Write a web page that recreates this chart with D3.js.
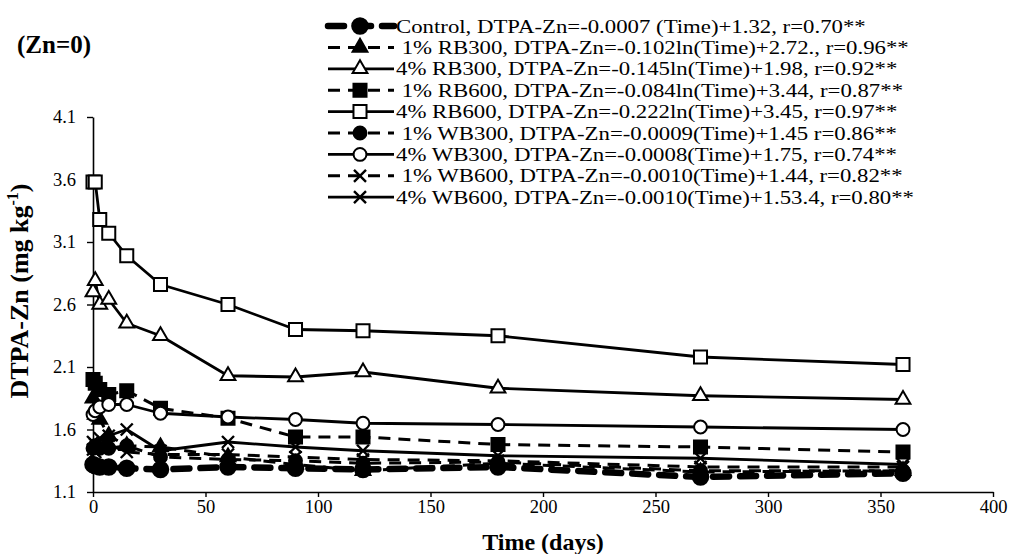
<!DOCTYPE html>
<html>
<head>
<meta charset="utf-8">
<script src="https://cdn.jsdelivr.net/npm/d3@7"></script>
<style>
  html, body { margin: 0; padding: 0; background: #fff; }
  svg { display: block; }
  text { font-family: "Liberation Serif", "Times New Roman", serif; fill: #000; }
</style>
</head>
<body>
<svg id="chart" width="1018" height="554"></svg>
<script>
// Sampling days
const time = [0, 1, 3, 7, 15, 30, 60, 90, 120, 180, 270, 360];

// DTPA-extractable Zn (mg/kg) per treatment
const control = [1.32, 1.31, 1.30, 1.30, 1.29, 1.28, 1.30, 1.29, 1.28, 1.30, 1.22, 1.25];
const rb300_1 = [1.85, 1.72, 1.68, 1.55, 1.47, 1.46, 1.38, 1.32, 1.27, 1.33, 1.26, 1.27];
const rb300_4 = [2.70, 2.79, 2.60, 2.64, 2.45, 2.35, 2.03, 2.02, 2.06, 1.93, 1.87, 1.84];
const rb600_1 = [2.00, 1.97, 1.92, 1.88, 1.91, 1.77, 1.69, 1.54, 1.54, 1.48, 1.46, 1.42];
const rb600_4 = [3.58, 3.58, 3.28, 3.17, 2.99, 2.76, 2.60, 2.40, 2.39, 2.35, 2.18, 2.12];
const wb300_1 = [1.45, 1.47, 1.45, 1.45, 1.47, 1.38, 1.36, 1.35, 1.33, 1.34, 1.27, 1.27];
const wb300_4 = [1.72, 1.75, 1.78, 1.80, 1.80, 1.73, 1.70, 1.68, 1.65, 1.64, 1.62, 1.60];
const wb600_1 = [1.44, 1.42, 1.46, 1.48, 1.42, 1.40, 1.40, 1.38, 1.36, 1.35, 1.30, 1.30];
const wb600_4 = [1.50, 1.48, 1.53, 1.55, 1.60, 1.43, 1.50, 1.46, 1.43, 1.39, 1.37, 1.32];

// Legend entries (fitted equations)
const labels = [
  "Control, DTPA-Zn=-0.0007 (Time)+1.32, r=0.70**",
  " 1% RB300, DTPA-Zn=-0.102ln(Time)+2.72., r=0.96**",
  "4% RB300, DTPA-Zn=-0.145ln(Time)+1.98, r=0.92**",
  " 1% RB600, DTPA-Zn=-0.084ln(Time)+3.44, r=0.87**",
  "4% RB600, DTPA-Zn=-0.222ln(Time)+3.45, r=0.97**",
  " 1% WB300, DTPA-Zn=-0.0009(Time)+1.45 r=0.86**",
  "4% WB300, DTPA-Zn=-0.0008(Time)+1.75, r=0.74**",
  " 1% WB600, DTPA-Zn=-0.0010(Time)+1.44, r=0.82**",
  "4% WB600, DTPA-Zn=-0.0010(Time)+1.53.4, r=0.80**"
];

const xTicks = [0, 50, 100, 150, 200, 250, 300, 350, 400];
const yTicks = [1.1, 1.6, 2.1, 2.6, 3.1, 3.6, 4.1];

// Line / marker styling per series
const styles = [
  { values: control, dash: "16,11", width: 6.5, cap: "round", marker: "circle", fill: "#000", size: 190 },
  { values: rb300_1, dash: "12,8", width: 3, cap: "butt", marker: "triangle", fill: "#000", size: 95 },
  { values: rb300_4, dash: null, width: 2.8, cap: "butt", marker: "triangle", fill: "#fff", size: 95 },
  { values: rb600_1, dash: "12,8", width: 3, cap: "butt", marker: "square", fill: "#000", size: 170 },
  { values: rb600_4, dash: null, width: 2.8, cap: "butt", marker: "square", fill: "#fff", size: 170 },
  { values: wb300_1, dash: "12,8", width: 3, cap: "butt", marker: "circle", fill: "#000", size: 130 },
  { values: wb300_4, dash: null, width: 2.8, cap: "butt", marker: "circle", fill: "#fff", size: 130 },
  { values: wb600_1, dash: "12,8", width: 3, cap: "butt", marker: "x", fill: "none", size: 12 },
  { values: wb600_4, dash: null, width: 2.8, cap: "butt", marker: "x", fill: "none", size: 12 }
];

const svg = d3.select("#chart");
const x = d3.scaleLinear().domain([0, 400]).range([93, 993]);
const y = d3.scaleLinear().domain([1.1, 4.1]).range([492, 117]);

// Axes
const xAxis = svg.append("g")
  .attr("transform", `translate(0,${y(1.1)})`)
  .call(d3.axisBottom(x).tickValues(xTicks).tickSize(5).tickPadding(3).tickSizeOuter(0));
const yAxis = svg.append("g")
  .attr("transform", `translate(${x(0)},0)`)
  .call(d3.axisLeft(y).tickValues(yTicks).tickFormat(d3.format(".1f")).tickSize(6).tickPadding(11).tickSizeOuter(0));
[xAxis, yAxis].forEach(g => {
  g.selectAll("path.domain").attr("stroke", "#000").attr("stroke-width", 1.6);
  g.selectAll(".tick line").attr("stroke", "#000").attr("stroke-width", 1.4);
  g.selectAll(".tick text").attr("font-family", "Liberation Serif").attr("font-size", 18.5).attr("fill", "#000");
});

function markerPath(type, size) {
  if (type === "x") {
    const h = size / 2;
    return `M${-h},${-h}L${h},${h}M${-h},${h}L${h},${-h}`;
  }
  const sym = { circle: d3.symbolCircle, square: d3.symbolSquare, triangle: d3.symbolTriangle }[type];
  return d3.symbol().type(sym).size(size)();
}

function drawMarker(g, s, cx, cy) {
  g.append("path")
    .attr("d", markerPath(s.marker, s.size))
    .attr("transform", `translate(${cx},${cy})`)
    .attr("stroke", "#000")
    .attr("stroke-width", s.marker === "x" ? 2.4 : 2)
    .attr("fill", s.fill);
}

// Series
const line = d3.line().x(d => x(d[0])).y(d => y(d[1]));
const plot = svg.append("g");
styles.forEach(s => {
  const pts = time.map((t, i) => [t, s.values[i]]);
  const g = plot.append("g");
  g.append("path")
    .attr("d", line(pts))
    .attr("fill", "none")
    .attr("stroke", "#000")
    .attr("stroke-width", s.width)
    .attr("stroke-linecap", s.cap)
    .attr("stroke-linejoin", "round")
    .attr("stroke-dasharray", s.dash);
  pts.forEach(p => drawMarker(g, s, x(p[0]), y(p[1])));
});

// Legend: wide serif text, slightly condensed line height
const legend = svg.append("g");
styles.forEach((s, i) => {
  const cy = 26 + i * 21.4;
  const row = legend.append("g");
  row.append("line")
    .attr("x1", 328).attr("x2", 394).attr("y1", cy).attr("y2", cy)
    .attr("stroke", "#000")
    .attr("stroke-width", s.width)
    .attr("stroke-linecap", s.cap)
    .attr("stroke-dasharray", s.dash);
  drawMarker(row, s, 360, cy);
  row.append("text")
    .attr("transform", `translate(396,${cy + 6.5}) scale(1.2,1)`)
    .attr("font-size", 19)
    .attr("xml:space", "preserve")
    .style("white-space", "pre")
    .text(labels[i]);
});

// Titles
svg.append("text")
  .attr("x", x(200)).attr("y", 550)
  .attr("text-anchor", "middle")
  .attr("font-size", 24).attr("font-weight", "bold")
  .text("Time (days)");

const yt = svg.append("text")
  .attr("transform", `translate(28,291) rotate(-90)`)
  .attr("text-anchor", "middle")
  .attr("font-size", 26).attr("font-weight", "bold");
yt.append("tspan").text("DTPA-Zn (mg kg");
yt.append("tspan").attr("dy", -10).attr("font-size", 16).text("-1");
yt.append("tspan").attr("dy", 10).text(")");

svg.append("text")
  .attr("x", 17).attr("y", 53)
  .attr("font-size", 25).attr("font-weight", "bold")
  .text("(Zn=0)");
</script>
</body>
</html>
